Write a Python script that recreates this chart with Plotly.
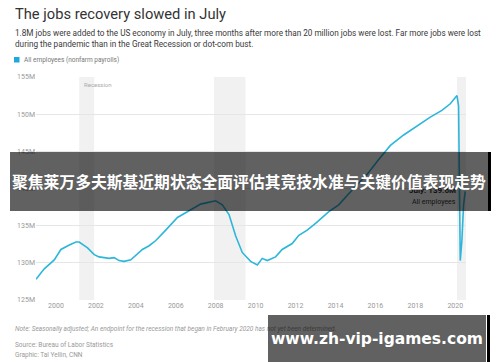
import plotly.graph_objects as go

# ---- data ----
dates = ["1999-01-01", "1999-06-01", "1999-12-01", "2000-04-01", "2000-09-01", "2001-01-01",
         "2001-03-01", "2001-08-01", "2001-12-01", "2002-03-01", "2002-09-01", "2002-12-01",
         "2003-03-01", "2003-06-01", "2003-10-01", "2004-02-01", "2004-05-01", "2004-09-01",
         "2005-01-01", "2005-07-01", "2006-02-01", "2006-09-01", "2007-04-01", "2007-08-01",
         "2008-01-01", "2008-05-01", "2008-09-01", "2009-01-01", "2009-05-01", "2009-10-01",
         "2010-02-01", "2010-05-01", "2010-08-01", "2011-01-01", "2011-05-01", "2011-11-01",
         "2012-03-01", "2012-08-01", "2013-01-01", "2013-09-01", "2014-03-01", "2014-11-01",
         "2015-08-01", "2016-03-01", "2016-10-01", "2017-06-01", "2018-04-01", "2018-10-01",
         "2019-05-01", "2019-10-01", "2020-02-01", "2020-03-01", "2020-04-01", "2020-05-01",
         "2020-06-01", "2020-07-01"]
employees_m = [127.8, 129.2, 130.4, 131.8, 132.4, 132.8,
               132.8, 132.0, 131.1, 130.8, 130.6, 130.7,
               130.3, 130.2, 130.4, 131.2, 131.8, 132.3,
               133.0, 134.4, 136.1, 137.0, 137.9, 138.1,
               138.35, 137.8, 136.5, 133.6, 131.4, 130.2,
               129.7, 130.6, 130.3, 130.8, 131.8, 132.6,
               133.7, 134.4, 135.3, 136.9, 137.8, 139.8,
               141.9, 143.9, 145.8, 147.2, 148.75, 149.6,
               150.5, 151.4, 152.5, 151.1, 130.3, 133.0,
               137.8, 139.6]

recession_starts = ["2001-03-01", "2007-12-01", "2020-02-01"]
recession_ends = ["2001-11-30", "2009-06-30", "2020-07-15"]

y_tick_vals = [125, 130, 135, 140, 145, 150, 155]
y_tick_text = ["125M", "130M", "135M", "140M", "145M", "150M", "155M"]
x_tick_vals = ["2000-01-01", "2002-01-01", "2004-01-01", "2006-01-01", "2008-01-01", "2010-01-01",
               "2012-01-01", "2014-01-01", "2016-01-01", "2018-01-01", "2020-01-01"]

# ---- layout geometry ----
W, H = 500, 362
L, R, T, B = 36, 34, 77, 62
PW, PH = W - L - R, H - T - B


def px(x):
    return (x - L) / PW


def py(y):
    return (H - B - y) / PH


fig = go.Figure()
fig.add_trace(go.Scatter(x=dates, y=employees_m, mode="lines",
                         line=dict(color="#2db6d9", width=1.6), showlegend=False,
                         hoverinfo="skip"))

shapes = []
for s, e in zip(recession_starts, recession_ends):
    shapes.append(dict(type="rect", xref="x", yref="paper", x0=s, x1=e, y0=0, y1=1,
                       fillcolor="rgba(0,0,0,0.055)", line=dict(width=0), layer="below"))
# legend swatch
shapes.append(dict(type="rect", xref="paper", yref="paper", x0=px(14), x1=px(19.5),
                   y0=py(62.5), y1=py(57), fillcolor="#1ea8dc", line=dict(width=0)))

txt = "Roboto"
ann = []
ann.append(dict(x=px(13), y=py(14), xref="paper", yref="paper", xanchor="left", yanchor="middle",
                text="The jobs recovery slowed in July", showarrow=False,
                font=dict(family=txt, size=14.7, color="#333")))
ann.append(dict(x=px(13), y=py(39), xref="paper", yref="paper", xanchor="left", yanchor="middle",
                align="left",
                text="1.8M jobs were added to the US economy in July, three months after more than 20 million jobs were lost. Far more jobs were lost<br>during the pandemic than in the Great Recession or dot-com bust.",
                showarrow=False, font=dict(family=txt, size=8.2, color="#3a3a3a")))
ann.append(dict(x=px(22), y=py(59.5), xref="paper", yref="paper", xanchor="left", yanchor="middle",
                text="All employees (nonfarm payrolls)", showarrow=False,
                font=dict(family=txt, size=6.5, color="#777")))
ann.append(dict(x=px(82), y=py(84), xref="paper", yref="paper", xanchor="left", yanchor="middle",
                text="Recession", showarrow=False,
                font=dict(family=txt, size=6, color="#aaa")))
ann.append(dict(x=px(458), y=py(190), xref="paper", yref="paper", xanchor="right", yanchor="middle",
                text="<b>July: 139.6M</b>", showarrow=False,
                font=dict(family=txt, size=8, color="#333")))
ann.append(dict(x=px(458), y=py(202), xref="paper", yref="paper", xanchor="right", yanchor="middle",
                text="All employees", showarrow=False,
                font=dict(family=txt, size=7, color="#333")))
ann.append(dict(x=px(13), y=py(329), xref="paper", yref="paper", xanchor="left", yanchor="middle",
                text="<i>Note: Seasonally adjusted; An endpoint for the recession that began in February 2020 has not yet been determined.</i>",
                showarrow=False, font=dict(family=txt, size=6.5, color="#999")))
ann.append(dict(x=px(13), y=py(345), xref="paper", yref="paper", xanchor="left", yanchor="middle",
                text="Source: Bureau of Labor Statistics", showarrow=False,
                font=dict(family=txt, size=6.5, color="#999")))
ann.append(dict(x=px(13), y=py(355), xref="paper", yref="paper", xanchor="left", yanchor="middle",
                text="Graphic: Tal Yellin, CNN", showarrow=False,
                font=dict(family=txt, size=6.5, color="#999")))

# overlay banner
ann.append(dict(x=px(10), y=py(152), xref="paper", yref="paper", xanchor="left", yanchor="top",
                width=478, height=59, borderpad=0, borderwidth=0, bgcolor="rgba(0,0,0,0.62)",
                text="<b>聚焦莱万多夫斯基近期状态全面评估其竞技水准与关键价值表现走势</b>",
                showarrow=False, align="center", valign="middle",
                font=dict(family="Noto Sans CJK SC", size=15.8, color="#ffffff")))
ann.append(dict(x=px(487.5), y=py(152), xref="paper", yref="paper", xanchor="left", yanchor="top",
                width=3, height=59, borderpad=0, borderwidth=0, bgcolor="#000000",
                text=" ", showarrow=False))
# watermark box
ann.append(dict(x=px(268), y=py(315), xref="paper", yref="paper", xanchor="left", yanchor="top",
                width=218, height=47, borderpad=0, borderwidth=0, bgcolor="rgba(0,0,0,0.62)",
                text="<b>www.zh-vip-igames.com</b>", showarrow=False, align="center", valign="middle",
                font=dict(family="DejaVu Sans", size=15.5, color="#ffffff")))
ann.append(dict(x=px(486.5), y=py(315), xref="paper", yref="paper", xanchor="left", yanchor="top",
                width=3, height=47, borderpad=0, borderwidth=0, bgcolor="#000000",
                text=" ", showarrow=False))

fig.update_layout(
    width=W, height=H, margin=dict(l=L, r=R, t=T, b=B),
    paper_bgcolor="white", plot_bgcolor="white",
    shapes=shapes, annotations=ann,
    xaxis=dict(type="date", range=["1999-01-01", "2020-07-15"], tickvals=x_tick_vals,
               tickformat="%Y", showgrid=False, zeroline=False, showline=False, ticks="",
               tickfont=dict(family=txt, size=7, color="#999"), fixedrange=True),
    yaxis=dict(range=[125, 155], tickvals=y_tick_vals, ticktext=y_tick_text,
               showgrid=True, gridcolor="#e6e6e6", gridwidth=1, zeroline=False, showline=False,
               ticks="", tickfont=dict(family=txt, size=7, color="#999"), fixedrange=True),
)

fig.write_html("out.html")
